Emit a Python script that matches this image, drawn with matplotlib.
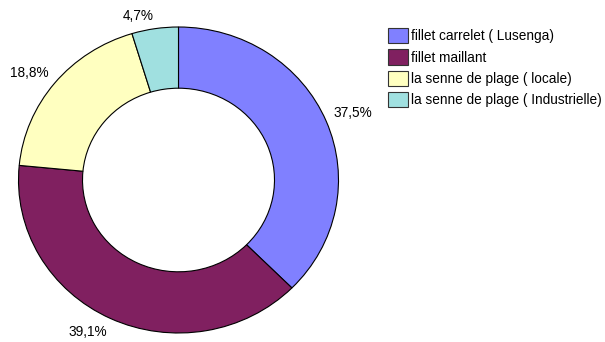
import numpy as np
import matplotlib
matplotlib.use("Agg")
import matplotlib.pyplot as plt

categories = ["fillet carrelet ( Lusenga)", "fillet maillant",
              "la senne de plage ( locale)", "la senne de plage ( Industrielle)"]
values = [37.5, 39.1, 18.8, 4.7]
pct_labels = ["37,5%", "39,1%", "18,8%", "4,7%"]
colors = ["#8080FF", "#802060", "#FFFFC0", "#A0E0E0"]

plt.rcParams['font.family'] = ['Liberation Sans', 'DejaVu Sans']
FS = 9.8

W, H = 605, 342
fig = plt.figure(figsize=(W / 100, H / 100), dpi=100)
# pie axes: centre (178.5, 180) px from top-left, radii 160 x 153 px
cx, cy, rx, ry = 178.5, 180, 160, 153
ax = fig.add_axes([(cx - rx) / W, (H - cy - ry) / H, 2 * rx / W, 2 * ry / H])
wedges, _ = ax.pie(values, colors=colors, startangle=90, counterclock=False,
                   radius=1.0,
                   wedgeprops=dict(width=0.4, edgecolor="black", linewidth=0.8))
ax.set_aspect('auto')
ax.set_xlim(-1, 1)
ax.set_ylim(-1, 1)
ax.axis('off')

for w, lab in zip(wedges, pct_labels):
    ang = np.deg2rad((w.theta1 + w.theta2) / 2)
    c, s = np.cos(ang), np.sin(ang)
    r = 1.05
    ha = 'left' if c > 0 else 'right'
    va = 'bottom' if s > 0 else 'top'
    y = r * s - (0.01 if s > 0 else 0.0)
    ax.text(r * c, y, lab, ha=ha, va=va, fontsize=FS, color="black",
            clip_on=False)

leg = fig.legend(wedges, categories, loc='upper left',
                 bbox_to_anchor=(388 / W, 1 - 28 / H), frameon=False,
                 fontsize=FS, handlelength=1.45, handleheight=1.35,
                 labelspacing=0.45, handletextpad=0.22, borderpad=0.0,
                 borderaxespad=0.0)
for p in leg.get_patches():
    p.set_linewidth(0.8)
    p.set_edgecolor("#333333")

fig.savefig("out.png", dpi=100)
